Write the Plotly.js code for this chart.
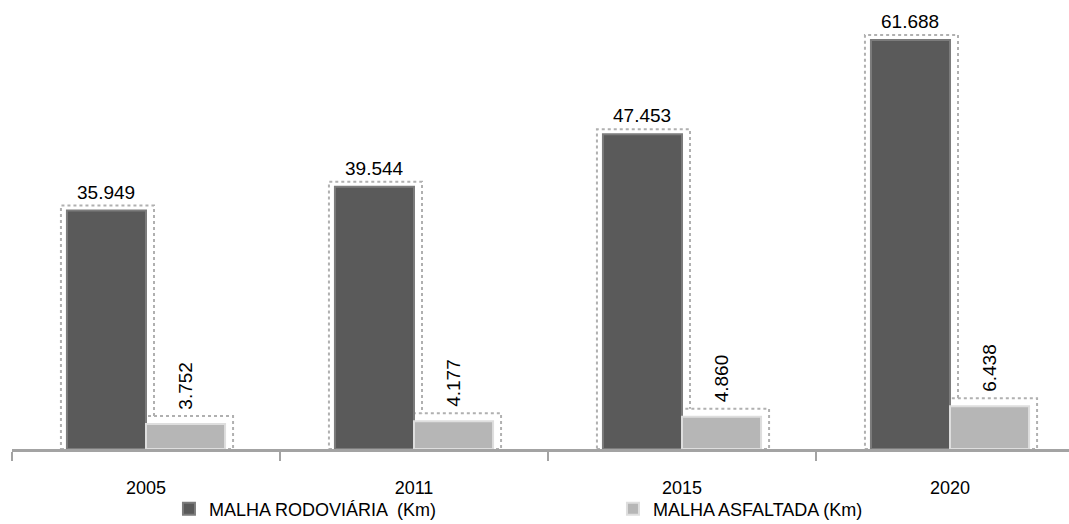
<!DOCTYPE html>
<html>
<head>
<meta charset="utf-8">
<script src="https://cdn.plot.ly/plotly-3.0.1.min.js"></script>
<style>
  html, body { margin: 0; padding: 0; background: #ffffff; }
  #chart { width: 1069px; height: 524px; }
</style>
</head>
<body>
<div id="chart"></div>
<script>
// ---- data ----
const categories = ['2005', '2011', '2015', '2020'];
const seriesNames = ['MALHA RODOVIÁRIA  (Km)', 'MALHA ASFALTADA (Km)'];
const malhaRodoviaria = [35949, 39544, 47453, 61688];
const malhaAsfaltada = [3752, 4177, 4860, 6438];

// ---- style constants ----
const BARGAP = 0.41;
const Y_MAX = 65900;
const PLOT_W = 1057;     // px width of plotting area
const X_MIN = -0.5;
const X_MAX = 3.444;
const PLOT_H = 437;
const pxX = (X_MAX - X_MIN) / PLOT_W;  // category units per px
const pxY = Y_MAX / PLOT_H;            // data units per px

function fmt(v) { return (v / 1000).toFixed(3); }

const idx = categories.map((c, i) => i);
const barW = (1 - BARGAP) / 2;
const offDark = -barW / 2;
const offLight = barW / 2;

const traces = [
  {
    type: 'bar', name: seriesNames[0], x: categories, y: malhaRodoviaria,
    marker: { color: '#5a5a5a', line: { color: '#7c7c7c', width: 2 } },
    hoverinfo: 'skip'
  },
  {
    type: 'bar', name: seriesNames[1], x: categories, y: malhaAsfaltada,
    marker: { color: '#b6b6b6', line: { color: '#dedede', width: 2 } },
    hoverinfo: 'skip'
  }
];

// dotted frames around bars (computed from data via axes)
const shapes = [];
idx.forEach(i => {
  const cd = i + offDark;
  shapes.push({
    type: 'rect', xref: 'x', yref: 'y', layer: 'below',
    x0: cd - barW / 2 - 6 * pxX, x1: cd + barW / 2 + 8 * pxX,
    y0: 0, y1: malhaRodoviaria[i] + 5 * pxY,
    line: { color: '#b0b0b0', width: 2, dash: 'dot' }, fillcolor: 'rgba(0,0,0,0)'
  });
  const cl = i + offLight;
  shapes.push({
    type: 'rect', xref: 'x', yref: 'y', layer: 'below',
    x0: cl - barW / 2 - 2 * pxX, x1: cl + barW / 2 + 8 * pxX,
    y0: 0, y1: malhaAsfaltada[i] + 8 * pxY,
    line: { color: '#b0b0b0', width: 2, dash: 'dot' }, fillcolor: '#ffffff'
  });
});

const annotations = [];
idx.forEach(i => {
  annotations.push({
    x: i + offDark, y: malhaRodoviaria[i], xref: 'x', yref: 'y',
    text: fmt(malhaRodoviaria[i]), showarrow: false,
    yanchor: 'bottom', xanchor: 'center', yshift: 6,
    font: { family: 'Liberation Sans, Arial, sans-serif', size: 19, color: '#000000' }
  });
  annotations.push({
    x: i + offLight, y: malhaAsfaltada[i], xref: 'x', yref: 'y',
    text: fmt(malhaAsfaltada[i]), showarrow: false, textangle: -90,
    yanchor: 'bottom', xanchor: 'center', yshift: 12,
    font: { family: 'Liberation Sans, Arial, sans-serif', size: 19, color: '#000000' }
  });
});

const layout = {
  width: 1069, height: 524,
  margin: { l: 12, r: 0, t: 12, b: 75, autoexpand: false },
  paper_bgcolor: '#ffffff', plot_bgcolor: '#ffffff',
  barmode: 'group', bargap: BARGAP, bargroupgap: 0,
  showlegend: true,
  legend: {
    orientation: 'h', x: 0.1485, xanchor: 'left',
    yref: 'container', y: 0.064, yanchor: 'top',
    bgcolor: 'rgba(0,0,0,0)',
    font: { family: 'Liberation Sans, Arial, sans-serif', size: 18, color: '#000000' },
    entrywidth: 399, entrywidthmode: 'pixels', traceorder: 'normal'
  },
  xaxis: {
    type: 'category', range: [X_MIN, X_MAX], automargin: false,
    showline: true, linecolor: '#a3a3a3', linewidth: 3,
    ticks: 'outside', tickson: 'boundaries', ticklen: 9, tickwidth: 2, tickcolor: '#a3a3a3',
    ticklabelstandoff: 20,
    tickfont: { family: 'Liberation Sans, Arial, sans-serif', size: 18, color: '#000000' },
    showgrid: false, zeroline: false, fixedrange: true
  },
  yaxis: {
    range: [0, Y_MAX], visible: false, showgrid: false, zeroline: false, fixedrange: true
  },
  shapes: shapes,
  annotations: annotations
};

Plotly.newPlot('chart', traces, layout, { displayModeBar: false, staticPlot: true });
</script>
</body>
</html>
